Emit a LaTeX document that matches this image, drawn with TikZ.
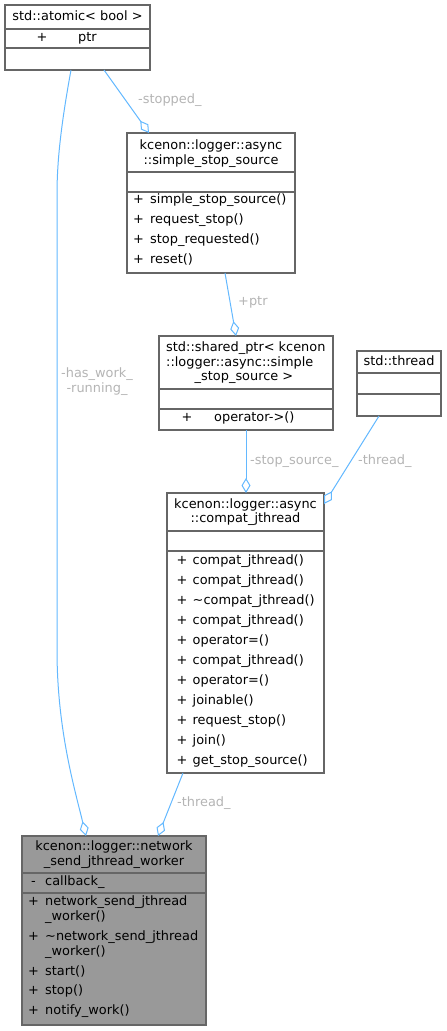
\documentclass[tikz,border=0pt]{standalone}
\usepackage{fontspec}
\setmainfont{DejaVu Sans}
\usetikzlibrary{arrows.meta,calc}
\definecolor{boxgray}{HTML}{666666}
\definecolor{edgeblue}{HTML}{63B8FF}
\definecolor{lblgray}{HTML}{B4B4B4}
\definecolor{workerfill}{HTML}{999999}
\tikzset{
  umlbox/.style={draw=boxgray, line width=1.1pt, fill=white, anchor=north west, inner sep=0pt, outer sep=0pt},
  sep/.style={draw=boxgray, line width=1.1pt},
  txt/.style={inner sep=0pt, anchor=west, text height=9.5pt, text depth=3pt, font=\fontsize{12.9}{15}\selectfont},
  ctxt/.style={inner sep=0pt, anchor=center, text height=9.5pt, text depth=3pt, font=\fontsize{12.9}{15}\selectfont},
  lbl/.style={inner sep=0pt, text=lblgray, font=\fontsize{12.9}{15}\selectfont},
  conn/.style={draw=edgeblue, line width=1pt, -{Diamond[open,length=15pt,width=9pt]}}
}
\begin{document}
\begin{tikzpicture}[x=1pt,y=-1pt]
\useasboundingbox (0,0) rectangle (447,1031);

% std::atomic< bool >
\node[umlbox, minimum width=145pt, minimum height=65pt] (atomic) at (5,5) {};
\draw[sep] (5,29) -- (150,29) (5,48) -- (150,48);
\node[ctxt] (atomicT) at (77.5,17) {std::atomic< bool >};
\node[txt] (atomicP) at (36.5,38) {+};
\node[txt] (atomicM) at (78,38) {ptr};

% simple_stop_source
\node[umlbox, minimum width=168pt, minimum height=140pt] (simple) at (127,133) {};
\draw[sep] (127,172) -- (295,172) (127,192) -- (295,192);
\node[ctxt] (simpleT1) at (211,146) {kcenon::logger::async};
\node[ctxt] (simpleT2) at (211,161) {::simple\_stop\_source};
\node[txt] (simpleP1) at (133,200) {+};
\node[txt] (simpleM1) at (150,200) {simple\_stop\_source()};
\node[txt] (simpleP2) at (133,220) {+};
\node[txt] (simpleM2) at (150,220) {request\_stop()};
\node[txt] (simpleP3) at (133,240) {+};
\node[txt] (simpleM3) at (150,240) {stop\_requested()};
\node[txt] (simpleP4) at (133,260) {+};
\node[txt] (simpleM4) at (150,260) {reset()};

% shared_ptr
\node[umlbox, minimum width=174pt, minimum height=94pt] (shared) at (159,336) {};
\draw[sep] (159,389) -- (333,389) (159,409) -- (333,409);
\node[txt] (sharedT1) at (166,348) {std::shared\_ptr< kcenon};
\node[txt] (sharedT2) at (166,363) {::logger::async::simple};
\node[ctxt] (sharedT3) at (244,377) {\_stop\_source >};
\node[txt] (sharedP) at (181.5,418) {+};
\node[txt] (sharedM) at (214,418) {operator->()};

% std::thread
\node[umlbox, minimum width=84pt, minimum height=65pt] (thread) at (357,351) {};
\draw[sep] (357,373) -- (441,373) (357,394) -- (441,394);
\node[ctxt] (threadT) at (399,362) {std::thread};

% compat_jthread
\node[umlbox, minimum width=157pt, minimum height=280pt] (compat) at (167,493) {};
\draw[sep] (167,531) -- (324,531) (167,551) -- (324,551);
\node[ctxt] (compatT1) at (245.5,505) {kcenon::logger::async};
\node[ctxt] (compatT2) at (245.5,519) {::compat\_jthread};
\foreach \t [count=\i from 0] in {compat\_jthread(), compat\_jthread(), \textasciitilde compat\_jthread(), compat\_jthread(), operator=(), compat\_jthread(), operator=(), joinable(), request\_stop(), join(), get\_stop\_source()}{
  \node[txt] (compatP\i) at (176.5,561+20*\i) {+};
  \node[txt] (compatM\i) at (192.5,561+20*\i) {\t};
}

% network_send_jthread_worker
\node[umlbox, fill=workerfill, minimum width=184pt, minimum height=189pt] (worker) at (22,836) {};
\draw[sep] (22,873) -- (206,873) (22,893) -- (206,893);
\node[ctxt] (workerT1) at (114,847) {kcenon::logger::network};
\node[ctxt] (workerT2) at (114,862) {\_send\_jthread\_worker};
\node[txt] (workerA) at (31,882) {-};
\node[txt] (workerAM) at (45,882) {callback\_};
\node[txt] (workerP1) at (28,902) {+};
\node[txt] (workerM1a) at (45,902) {network\_send\_jthread};
\node[txt] (workerM1b) at (45,917) {\_worker()};
\node[txt] (workerP2) at (28,937) {+};
\node[txt] (workerM2a) at (45,937) {\textasciitilde network\_send\_jthread};
\node[txt] (workerM2b) at (45,952) {\_worker()};
\node[txt] (workerP3) at (28,972) {+};
\node[txt] (workerM3) at (45,972) {start()};
\node[txt] (workerP4) at (28,991) {+};
\node[txt] (workerM4) at (45,991) {stop()};
\node[txt] (workerP5) at (28,1011) {+};
\node[txt] (workerM5) at (45,1011) {notify\_work()};

% connectors
\draw[conn] ($(atomic.south west)+(66,0)$) .. controls (60,130) and (57,165) .. (57,195)
  -- (57,650) .. controls (57,730) and (75,790) .. ($(worker.north west)+(64,0)$);
\draw[conn] ($(atomic.south west)+(99,0)$) -- ($(simple.north west)+(22,0)$);
\draw[conn] ($(simple.south west)+(98,0)$) -- ($(shared.north west)+(77,0)$);
\draw[conn] ($(shared.south west)+(87,0)$) -- ($(compat.north west)+(79,0)$);
\draw[conn] ($(thread.south west)+(22,0)$) -- ($(compat.north east)+(0,11)$);
\draw[conn] ($(compat.south west)+(16,0)$) -- ($(worker.north west)+(136,0)$);

% labels
\node[lbl, anchor=west] (lStopped) at (138,100) {-stopped\_};
\node[lbl, anchor=west] (lPtr) at (238,302) {+ptr};
\node[lbl, align=center] (lHas) at (97,382) {-has\_work\_\\-running\_};
\node[lbl, anchor=west] (lStop) at (250,461) {-stop\_source\_};
\node[lbl, anchor=west] (lThread1) at (358,461) {-thread\_};
\node[lbl, anchor=west] (lThread2) at (177,803) {-thread\_};
\end{tikzpicture}
\end{document}
